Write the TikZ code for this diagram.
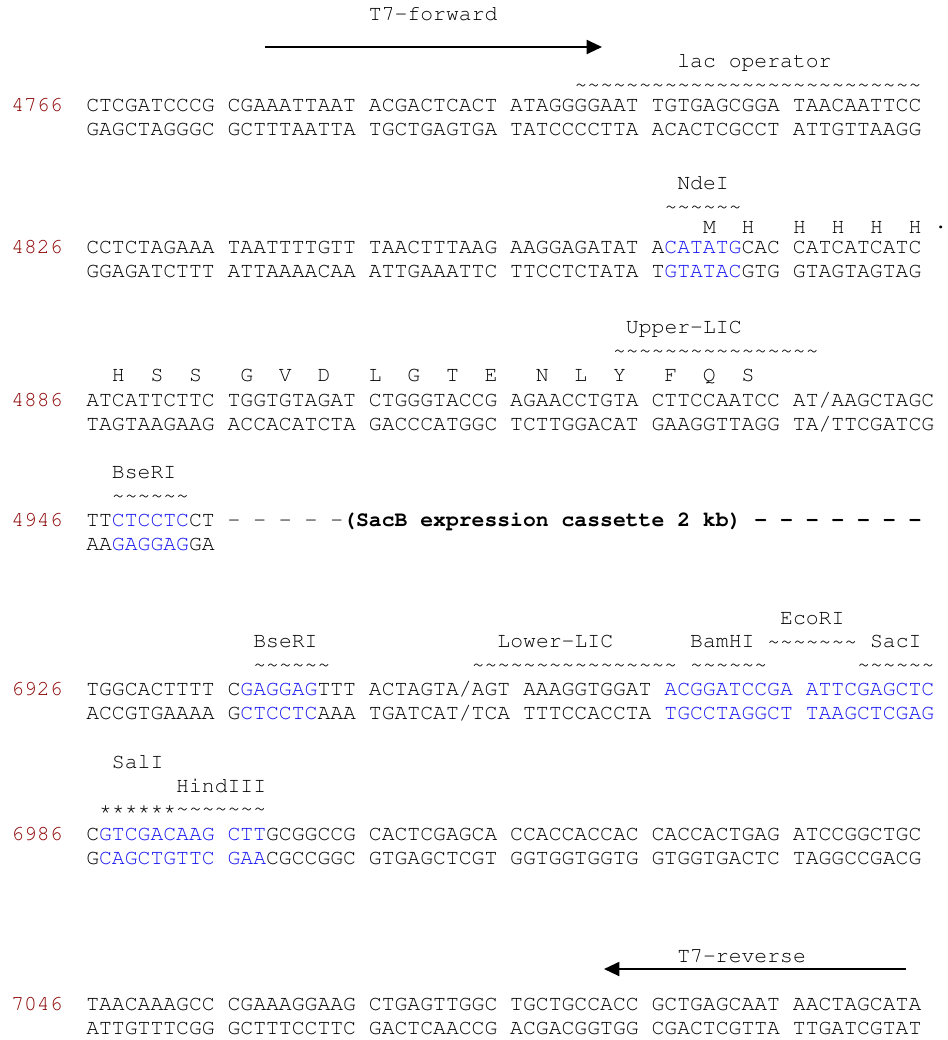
\documentclass[tikz,border=0pt]{standalone}
\usepackage[T1]{fontenc}
\renewcommand{\ttdefault}{pcr}
\usepackage{xcolor}
\usetikzlibrary{arrows.meta}
\definecolor{cNum}{RGB}{139,0,0}
\definecolor{cSite}{RGB}{20,20,240}
\newcommand{\site}[1]{\textcolor{cSite}{#1}}
\ExplSyntaxOn
\NewDocumentCommand{\waves}{m}{\prg_replicate:nn{#1}{\textasciitilde}}
\ExplSyntaxOff
% x position of sequence column #1 (in px)
\newcommand{\cx}[1]{86+12.85*#1}
\tikzset{
	seqline/.style={anchor=base west, inner sep=0pt, font=\ttfamily\fontsize{16.06}{19}\selectfont},
	numlbl/.style ={seqline, text=cNum},
	feat/.style   ={seqline},
	wave/.style   ={seqline},
	primer/.style ={-{Triangle[length=11.5pt, width=10.5pt]}, line width=1.5pt},
}
\frenchspacing

\begin{document}
\begin{tikzpicture}[x=0.75pt, y=-0.75pt]
	\path[use as bounding box, fill=white] (0,0) rectangle (948,1040);
	% T7 forward primer
	\node[feat] (t7f) at ({\cx{22}},20) {T7-forward};
	\coordinate (t7fs) at (265,47);
	\coordinate (t7fe) at (602,47);
	\draw[primer] (t7fs) -- (t7fe);
	% 4766
	\node[feat] (lacop) at ({\cx{46}},67) {lac operator};
	\node[wave] (lacw) at ({\cx{38}},91) {\waves{27}};
	\node[numlbl] (n4766) at (11,111) {4766};
	\node[seqline] (s4766) at (86,111) {CTCGATCCCG CGAAATTAAT ACGACTCACT ATAGGGGAAT TGTGAGCGGA TAACAATTCC};
	\node[seqline] (c4766) at (86,135) {GAGCTAGGGC GCTTTAATTA TGCTGAGTGA TATCCCCTTA ACACTCGCCT ATTGTTAAGG};
	% 4826
	\node[feat] (ndei) at ({\cx{46}},189) {NdeI};
	\node[wave] (ndeiw) at ({\cx{45}},213) {\waves{6}};
	\node[seqline] (aa4826) at ({\cx{48}},233) {M~~H~~~H~~H~~H~~H~\textperiodcentered};
	\node[numlbl] (n4826) at (11,253) {4826};
	\node[seqline] (s4826) at (86,253) {CCTCTAGAAA TAATTTTGTT TAACTTTAAG AAGGAGATAT A\site{CATATG}CAC CATCATCATC};
	\node[seqline] (c4826) at (86,277) {GGAGATCTTT ATTAAAACAA ATTGAAATTC TTCCTCTATA T\site{GTATAC}GTG GTAGTAGTAG};
	% 4886
	\node[feat] (ulic) at ({\cx{42}},333) {Upper-LIC};
	\node[wave] (ulicw) at ({\cx{41}},357) {\waves{16}};
	\node[seqline] (aa4886) at ({\cx{2}},381) {H~~S~~S~~~G~~V~~D~~~L~~G~~T~~E~~~N~~L~~Y~~~F~~Q~~S};
	\node[numlbl] (n4886) at (11,406) {4886};
	\node[seqline] (s4886) at (86,406) {ATCATTCTTC TGGTGTAGAT CTGGGTACCG AGAACCTGTA CTTCCAATCC AT/AAGCTAGC};
	\node[seqline] (c4886) at (86,430) {TAGTAAGAAG ACCACATCTA GACCCATGGC TCTTGGACAT GAAGGTTAGG TA/TTCGATCG};
	% 4946
	\node[feat] (bseri1) at ({\cx{2}},478) {BseRI};
	\node[wave] (bseri1w) at ({\cx{2}},502) {\waves{6}};
	\node[numlbl] (n4946) at (11,526) {4946};
	\node[seqline] (s4946) at (86,526) {TT\site{CTCCTC}CT - - - - -\textbf{(SacB expression cassette 2 kb) - - - - - - -}};
	\node[seqline] (c4946) at (86,550) {AA\site{GAGGAG}GA};
	% 6926
	\node[feat] (ecori) at ({\cx{54}},624) {EcoRI};
	\node[feat] (bseri2) at ({\cx{13}},647) {BseRI};
	\node[feat] (llic) at ({\cx{32}},647) {Lower-LIC};
	\node[feat] (bamhi) at ({\cx{47}},647) {BamHI};
	\node[wave] (ecoriw) at ({\cx{53}},648) {\waves{7}};
	\node[feat] (saci) at ({\cx{61}},647) {SacI};
	\node[wave] (bseri2w) at ({\cx{13}},671) {\waves{6}};
	\node[wave] (llicw) at ({\cx{30}},671) {\waves{16}};
	\node[wave] (bamhiw) at ({\cx{47}},671) {\waves{6}};
	\node[wave] (saciw) at ({\cx{60}},671) {\waves{6}};
	\node[numlbl] (n6926) at (11,695) {6926};
	\node[seqline] (s6926) at (86,695) {TGGCACTTTT C\site{GAGGAG}TTT ACTAGTA/AGT AAAGGTGGAT \site{ACGGATCCGA ATTCGAGCTC}};
	\node[seqline] (c6926) at (86,719) {ACCGTGAAAA G\site{CTCCTC}AAA TGATCAT/TCA TTTCCACCTA \site{TGCCTAGGCT TAAGCTCGAG}};
	% 6986
	\node[feat] (sali) at ({\cx{2}},768) {SalI};
	\node[feat] (hind) at ({\cx{7}},792) {HindIII};
	\node[wave] (salhindw) at ({\cx{1}},815) {******\waves{7}};
	\node[numlbl] (n6986) at (11,840) {6986};
	\node[seqline] (s6986) at (86,840) {C\site{GTCGACAAG CTT}GCGGCCG CACTCGAGCA CCACCACCAC CACCACTGAG ATCCGGCTGC};
	\node[seqline] (c6986) at (86,864) {G\site{CAGCTGTTC GAA}CGCCGGC GTGAGCTCGT GGTGGTGGTG GTGGTGACTC TAGGCCGACG};
	% T7 reverse primer
	\node[feat] (t7r) at ({\cx{46}},962) {T7-reverse};
	\coordinate (t7rs) at (906,969);
	\coordinate (t7re) at (604,969);
	\draw[primer] (t7rs) -- (t7re);
	% 7046
	\node[numlbl] (n7046) at (11,1010) {7046};
	\node[seqline] (s7046) at (86,1010) {TAACAAAGCC CGAAAGGAAG CTGAGTTGGC TGCTGCCACC GCTGAGCAAT AACTAGCATA};
	\node[seqline] (c7046) at (86,1034) {ATTGTTTCGG GCTTTCCTTC GACTCAACCG ACGACGGTGG CGACTCGTTA TTGATCGTAT};
\end{tikzpicture}
\end{document}
